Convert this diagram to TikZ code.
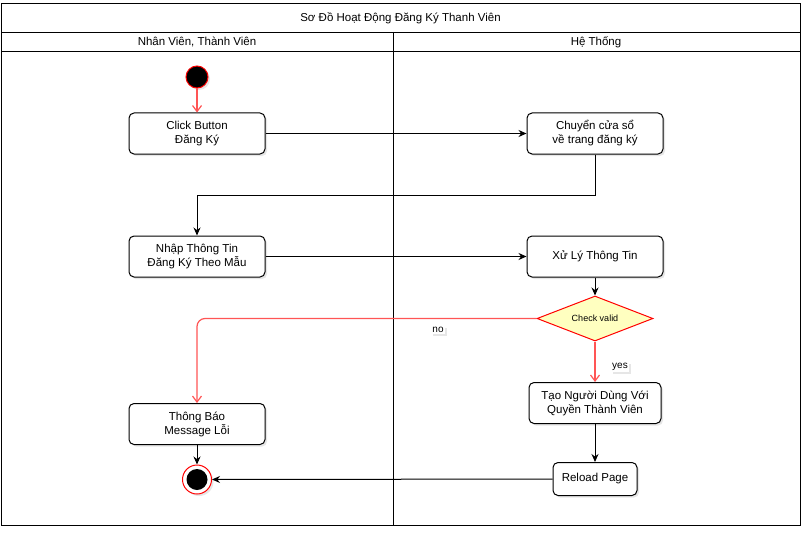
\documentclass[tikz,border=0pt]{standalone}
\usepackage{fontspec}
\setmainfont{Liberation Sans}
\usetikzlibrary{shapes.geometric,arrows.meta,shadows}

\definecolor{lred}{HTML}{FF5555}
\definecolor{dfill}{HTML}{FFFFC0}

\tikzset{
  shade/.style={drop shadow={opacity=0.2,shadow xshift=2pt,shadow yshift=-2pt}},
  actbox/.style={draw,line width=1pt,rounded corners=5pt,fill=white,align=center,minimum width=136pt,minimum height=41pt,inner sep=1pt,shade},
  decis/.style={diamond,draw=red,line width=1pt,fill=dfill,aspect=2.6,minimum width=116pt,minimum height=45pt,inner sep=0pt,font=\fontsize{9}{10}\selectfont},
  flow/.style={-{Stealth[length=8pt,width=7pt]},line width=1pt},
  noflow/.style={-{Straight Barb[length=6pt,width=9pt]},draw=lred,line width=1.2pt},
  lbl/.style={fill=white,inner sep=1pt,font=\fontsize{10}{12}\selectfont,shade}
}

\begin{document}
\begin{tikzpicture}[x=1pt,y=-1pt,font=\fontsize{11.5}{14}\selectfont]
\useasboundingbox (0,0) rectangle (802,532);
% swimlanes
\draw[line width=0.9pt] (1,3) rectangle (800,525);
\draw[line width=0.9pt] (1,32) -- (800,32);
\draw[line width=0.9pt] (1,51) -- (800,51);
\draw[line width=0.9pt] (393,32) -- (393,525);
\node (title) at (400.5,18) {Sơ Đồ Hoạt Động Đăng Ký Thanh Viên};
\node (lane1) at (197,42) {Nhân Viên, Thành Viên};
\node (lane2) at (596,42) {Hệ Thống};

% nodes
\node[circle,draw=red,line width=1pt,fill=black,minimum size=22pt,inner sep=0pt,shade] (start) at (197,77) {};
\node[actbox] (click) at (197,133.5) {Click Button\\Đăng Ký};
\node[actbox] (move) at (595,133.5) {Chuyển cửa sổ\\về trang đăng ký};
\node[actbox] (input) at (197,256.5) {Nhập Thông Tin\\Đăng Ký Theo Mẫu};
\node[actbox] (proc) at (595,256.5) {Xử Lý Thông Tin};
\node[decis] (check) at (595,318.5) {Check valid};
\node[actbox,minimum width=132pt] (create) at (595,403) {Tạo Người Dùng Với\\Quyền Thành Viên};
\node[actbox] (err) at (197,424) {Thông Báo\\Message Lỗi};
\node[actbox,minimum width=84pt,minimum height=33pt] (reload) at (595,479) {Reload Page};
\node[circle,draw=red,fill=white,minimum size=29pt,inner sep=0pt,line width=1pt,shade] (stop) at (197,479.5) {};
\node[circle,fill=black,minimum size=21pt,inner sep=0pt] (stopin) at (stop) {};

% connectors
\draw[noflow] (start) -- (click);
\draw[flow] (click) -- (move);
\draw[flow] (move.south) |- (197,195) -- (input.north);
\draw[flow] (input) -- (proc);
\draw[flow] (proc) -- (check);
\draw[noflow,rounded corners=8pt] (check.west) -| (err.north);
\draw[noflow] (check.south) -- (create.north);
\draw[flow] (create) -- (reload);
\draw[flow] (err) -- (stop);
\draw[flow] (reload) -- (stop);
\node[lbl] (no) at (438,330) {no};
\node[lbl] (yes) at (620,367) {yes};
\end{tikzpicture}
\end{document}
